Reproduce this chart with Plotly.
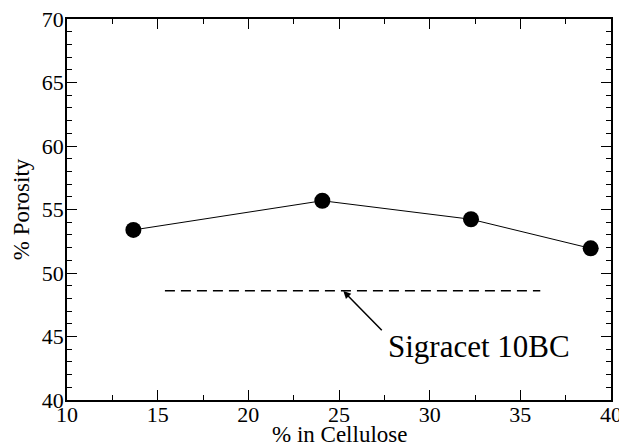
import plotly.graph_objects as go

cellulose = [13.66, 24.08, 32.28, 38.88]
porosity = [53.39, 55.69, 54.23, 51.94]
ref_x = [15.4, 36.1]
ref_y = [48.6, 48.6]
ref_label = "Sigracet 10BC"
x_title = "% in Cellulose"
y_title = "% Porosity"
arrow_head = (25.24, 48.58)
arrow_tail = (27.44, 45.38)
label_pos = (27.6, 44.2)

font = "Liberation Serif, Times New Roman, serif"

fig = go.Figure()
fig.add_trace(go.Scatter(x=ref_x, y=ref_y, mode="lines",
                         line=dict(color="black", width=1.5, dash="10px,6px"),
                         showlegend=False, hoverinfo="skip"))
fig.add_trace(go.Scatter(x=cellulose, y=porosity, mode="lines+markers",
                         line=dict(color="black", width=1),
                         marker=dict(color="black", size=16),
                         showlegend=False))

fig.add_annotation(x=arrow_head[0], y=arrow_head[1], ax=arrow_tail[0], ay=arrow_tail[1],
                   xref="x", yref="y", axref="x", ayref="y", text="",
                   showarrow=True, arrowhead=2, arrowsize=1, arrowwidth=1.5,
                   arrowcolor="black")
fig.add_annotation(x=label_pos[0], y=label_pos[1], xref="x", yref="y",
                   text=ref_label, showarrow=False, xanchor="left", yanchor="middle",
                   font=dict(family=font, size=31, color="black"))
# x-axis title placed just under the tick labels, as in the reference
fig.add_annotation(x=0.5, y=-0.091, xref="paper", yref="paper", text=x_title,
                   showarrow=False, xanchor="center", yanchor="middle",
                   font=dict(family=font, size=23, color="black"))

axis_common = dict(showgrid=False, zeroline=False, showline=True, linecolor="black",
                   linewidth=1.5, mirror="ticks", ticks="inside", ticklen=10,
                   tickwidth=1, tickcolor="black", automargin=False,
                   ticklabeloverflow="allow",
                   tickfont=dict(family=font, size=22, color="black"))

fig.update_xaxes(range=[10, 40], dtick=5, tick0=10, ticklabelstandoff=-6,
                 minor=dict(dtick=2.5, ticks="inside", ticklen=5, tickcolor="black", tickwidth=1),
                 **axis_common)
fig.update_yaxes(range=[40, 70], dtick=5, tick0=40, ticklabelstandoff=-3,
                 minor=dict(dtick=1, ticks="inside", ticklen=5, tickcolor="black", tickwidth=1),
                 title=dict(text=y_title, font=dict(family=font, size=23, color="black"),
                            standoff=6),
                 **axis_common)

fig.update_layout(width=619, height=438, margin=dict(l=59, r=16, t=11, b=46),
                  plot_bgcolor="white", paper_bgcolor="white",
                  font=dict(family=font, color="black"))

fig.write_html("out.html")
